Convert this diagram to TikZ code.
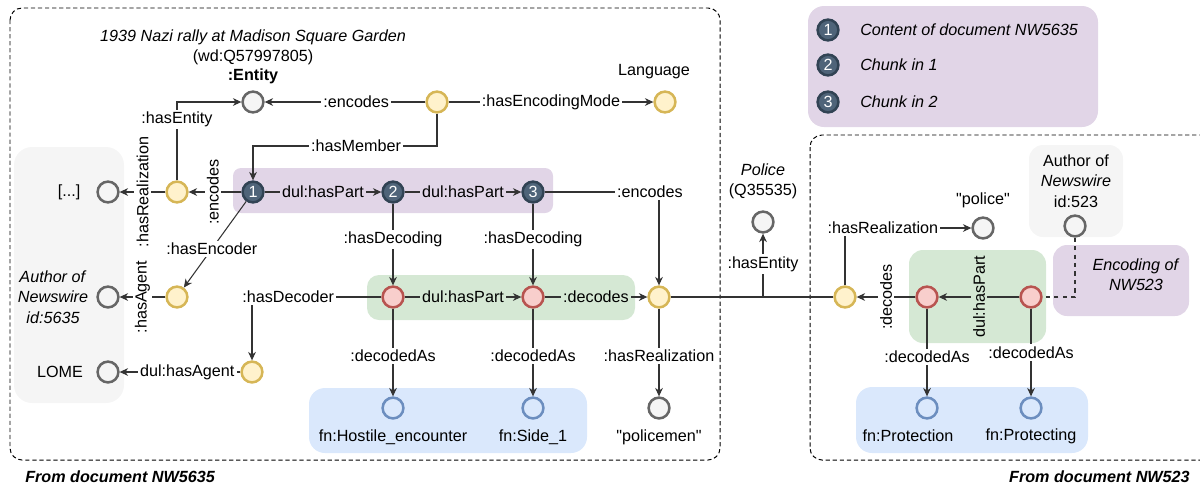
\documentclass[tikz,border=0pt]{standalone}
\usepackage{fontspec}
\setmainfont{Liberation Sans}[Ligatures=TeXOff]
\usetikzlibrary{arrows.meta}
\definecolor{ylwfill}{HTML}{FFF2CC}
\definecolor{ylwline}{HTML}{D6B656}
\definecolor{redfill}{HTML}{F8CECC}
\definecolor{redline}{HTML}{B85450}
\definecolor{bluefill}{HTML}{DAE8FC}
\definecolor{blueline}{HTML}{6C8EBF}
\definecolor{grayfill}{HTML}{F5F5F5}
\definecolor{grayline}{HTML}{666666}
\definecolor{slatefill}{HTML}{4F6479}
\definecolor{slateline}{HTML}{314354}
\definecolor{purpfill}{HTML}{E1D5E7}
\definecolor{grnfill}{HTML}{D5E8D4}

\begin{document}
\begin{tikzpicture}[x=0.025cm,y=0.025cm]
            \tikzstyle{every node}+=[inner sep=0pt, font=\fontsize{11.5}{14.5}\selectfont]
            \tikzstyle{circ}=[circle, minimum size=0.52cm, line width=1.8pt]
            \tikzstyle{ylw}=[circ, draw=ylwline, fill=ylwfill]
            \tikzstyle{red}=[circ, draw=redline, fill=redfill]
            \tikzstyle{blu}=[circ, draw=blueline, fill=bluefill]
            \tikzstyle{gry}=[circ, draw=grayline, fill=grayfill]
            \tikzstyle{slate}=[circ, draw=slateline, fill=slatefill, text=white]
            \tikzstyle{line}=[draw=black!80, line width=0.75pt]
            \tikzstyle{edge}=[line, -{Stealth[length=6pt,width=5.5pt]}]
            \tikzstyle{lbl}=[fill=white, inner sep=1.5pt]
            \tikzstyle{plbl}=[lbl, fill=purpfill]
            \tikzstyle{glbl}=[lbl, fill=grnfill]
            \tikzstyle{frame}=[line width=0.7pt, dash pattern=on 3pt off 2pt, rounded corners=0.3cm]
            \useasboundingbox (0,0) rectangle (1200,-488);
            \draw [frame] (10,-8) rectangle (720,-460);
            \draw [frame] (810,-135) rectangle (1230,-460);
            \fill [grayfill, rounded corners=0.45cm] (14,-147) rectangle (124,-403);
            \fill [purpfill, rounded corners=0.2cm] (233,-168) rectangle (553,-213);
            \fill [grnfill, rounded corners=0.3cm] (367,-275) rectangle (635,-320);
            \fill [bluefill, rounded corners=0.4cm] (309,-388) rectangle (587,-453);
            \fill [purpfill, rounded corners=0.4cm] (808,-6) rectangle (1098,-127);
            \fill [grayfill, rounded corners=0.35cm] (1029,-145) rectangle (1123,-237);
            \fill [purpfill, rounded corners=0.35cm] (1053,-245) rectangle (1189,-316);
            \fill [grnfill, rounded corners=0.35cm] (909,-250) rectangle (1046,-343);
            \fill [bluefill, rounded corners=0.4cm] (856,-387) rectangle (1088,-453);
            \node [slate] (lg1) at (828,-30) {1};
            \node [slate] (lg2) at (828,-65) {2};
            \node [slate] (lg3) at (828,-102) {3};
            \node [anchor=west] (lg1txt) at (860,-30) {\textit{Content of document NW5635}};
            \node [anchor=west] (lg2txt) at (860,-65) {\textit{Chunk in 1}};
            \node [anchor=west] (lg3txt) at (860,-102) {\textit{Chunk in 2}};
            \node (title) at (253,-37) {\textit{1939 Nazi rally at Madison Square Garden}};
            \node (wd) at (253,-57) {(wd:Q57997805)};
            \node (entlbl) at (253,-76) {\textbf{:Entity}};
            \node [gry] (ent) at (253,-102) {};
            \node [ylw] (enc0) at (437,-102) {};
            \node (langlbl) at (654,-72) {Language};
            \node [ylw] (lang) at (665,-102) {};
            \coordinate (membend) at (253,-146);
            \node [slate] (n1) at (253,-192) {1};
            \node [slate] (n2) at (393,-192) {2};
            \node [slate] (n3) at (533,-192) {3};
            \node [ylw] (enc1) at (177,-192) {};
            \node [gry] (dots) at (108,-192) {};
            \node (dotslbl) at (69,-192) {[...]};
            \node [ylw] (encr) at (177,-297) {};
            \node [gry] (auth) at (108,-297) {};
            \node [align=center] (authlbl) at (53,-297) {\textit{Author of}\\\textit{Newswire}\\\textit{id:5635}};
            \node [gry] (lome) at (108,-372) {};
            \node (lomelbl) at (60,-372) {LOME};
            \node [ylw] (decr) at (252,-372) {};
            \node [red] (dA) at (393,-297) {};
            \node [red] (dB) at (533,-297) {};
            \node [ylw] (enc2) at (659,-297) {};
            \node [blu] (fA) at (393,-408) {};
            \node [blu] (fB) at (533,-408) {};
            \node [gry] (polm) at (659,-408) {};
            \node (fAlbl) at (393,-437) {fn:Hostile\_encounter};
            \node (fBlbl) at (533,-437) {fn:Side\_1};
            \node (polmlbl) at (659,-437) {"policemen"};
            \node (pollbl) at (763,-170) {\textit{Police}};
            \node (polq) at (763,-191) {(Q35535)};
            \node [gry] (pol) at (763,-222) {};
            \coordinate (join) at (763,-297);
            \node [ylw] (enc3) at (845,-297) {};
            \node (polwlbl) at (983,-200) {"police"};
            \node [gry] (polw) at (983,-228) {};
            \node [red] (dC) at (927,-297) {};
            \node [red] (dD) at (1031,-297) {};
            \node [blu] (fC) at (927,-408) {};
            \node [blu] (fD) at (1031,-408) {};
            \node (fClbl) at (908,-436) {fn:Protection};
            \node (fDlbl) at (1031,-436) {fn:Protecting};
            \node [align=center] (auth2lbl) at (1076,-181) {Author of\\\textit{Newswire}\\id:523};
            \node [gry] (auth2) at (1075,-226) {};
            \node [align=center] (nwlbl) at (1136,-275) {\textit{Encoding of}\\\textit{NW523}};
            \node [anchor=west] (from1) at (25,-477) {\textbf{\textit{From document NW5635}}};
            \node [anchor=east] (from2) at (1190,-477) {\textbf{\textit{From document NW523}}};
            \draw [edge] (enc0) -- node [lbl, pos=0.43] {:encodes} (ent);
            \draw [edge] (enc0) -- node [lbl] {:hasEncodingMode} (lang);
            \draw [edge] (enc0) |- node [lbl, pos=0.72] {:hasMember} (membend) -- (n1);
            \draw [edge] (enc1) |- node [lbl, pos=0.39] {:hasEntity} (ent);
            \draw [edge] (n1) -- node [lbl, rotate=90, pos=0.54] {:encodes} (enc1);
            \draw [edge] (enc1) -- node [lbl, rotate=90] {:hasRealization} (dots);
            \draw [edge] (n1) -- node [lbl, pos=0.55] {:hasEncoder} (encr);
            \draw [edge] (encr) -- node [lbl, rotate=90] {:hasAgent} (auth);
            \draw [edge] (dA) -| node [lbl, pos=0.36] {:hasDecoder} (decr);
            \draw [edge] (decr) -- node [lbl, pos=0.44] {dul:hasAgent} (lome);
            \draw [edge] (n1) -- node [plbl] {dul:hasPart} (n2);
            \draw [edge] (n2) -- node [plbl] {dul:hasPart} (n3);
            \draw [edge] (n3) -| node [lbl, pos=0.46] {:encodes} (enc2);
            \draw [edge] (n2) -- node [lbl, pos=0.44] {:hasDecoding} (dA);
            \draw [edge] (n3) -- node [lbl, pos=0.44] {:hasDecoding} (dB);
            \draw [edge] (dA) -- node [glbl] {dul:hasPart} (dB);
            \draw [edge] (dB) -- node [glbl] {:decodes} (enc2);
            \draw [edge] (dA) -- node [lbl, pos=0.54] {:decodedAs} (fA);
            \draw [edge] (dB) -- node [lbl, pos=0.54] {:decodedAs} (fB);
            \draw [edge] (enc2) -- node [lbl, pos=0.54] {:hasRealization} (polm);
            \draw [line] (enc2) -- (join);
            \draw [line] (enc3) -- (join);
            \draw [edge] (join) -- node [lbl, pos=0.52] {:hasEntity} (pol);
            \draw [edge] (enc3) |- node [lbl, pos=0.65] {:hasRealization} (polw);
            \draw [edge] (dC) -- node [lbl, rotate=90] {:decodes} (enc3);
            \draw [edge] (dD) -- node [glbl, rotate=90] {dul:hasPart} (dC);
            \draw [edge] (dC) -- node [lbl, pos=0.55] {:decodedAs} (fC);
            \draw [edge] (dD) -- node [lbl, pos=0.5] {:decodedAs} (fD);
            \draw [line, dashed] (auth2) |- (dD);
\end{tikzpicture}
\end{document}
